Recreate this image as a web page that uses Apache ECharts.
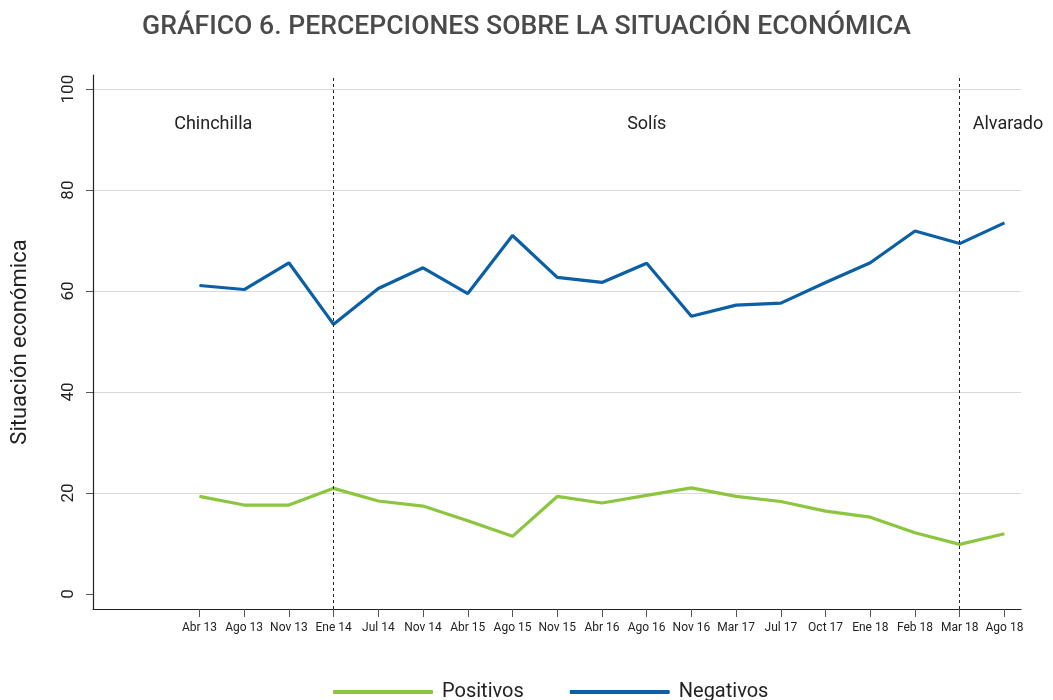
<!DOCTYPE html>
<html>
<head>
<meta charset="utf-8">
<script src="https://cdn.jsdelivr.net/npm/echarts@6/dist/echarts.min.js"></script>
<style>
  html, body { margin: 0; padding: 0; background: #fff; }
  #chart { width: 1053px; height: 700px; }
</style>
</head>
<body>
<div id="chart"></div>
<script>
// fechas de las encuestas
const periodos = ['Abr 13', 'Ago 13', 'Nov 13', 'Ene 14', 'Jul 14', 'Nov 14', 'Abr 15', 'Ago 15', 'Nov 15',
  'Abr 16', 'Ago 16', 'Nov 16', 'Mar 17', 'Jul 17', 'Oct 17', 'Ene 18', 'Feb 18', 'Mar 18', 'Ago 18']
const positivos = [19.3, 17.6, 17.6, 20.9, 18.4, 17.4, 14.5, 11.4, 19.3, 18.0, 19.5, 21.0, 19.3, 18.3, 16.4, 15.2, 12.1, 9.8, 11.9]
const negativos = [61.1, 60.3, 65.6, 53.4, 60.5, 64.6, 59.5, 71.0, 62.7, 61.7, 65.5, 55.0, 57.2, 57.6, 61.7, 65.6, 71.9, 69.4, 73.5]
const yTicks = [0, 20, 40, 60, 80, 100]
// cambios de gobierno (indice de la fecha)
const gobiernos = ['Chinchilla', 'Solís', 'Alvarado']
const cortes = [3, 17]

const X_MIN = -2.38
const X_MAX = 18.37
const FONT = 'Roboto'

const toPairs = arr => arr.map((v, i) => [i, v])

const chart = echarts.init(document.getElementById('chart'))

const option = {
  animation: false,
  textStyle: { fontFamily: FONT },
  title: {
    text: 'GRÁFICO 6. PERCEPCIONES SOBRE LA SITUACIÓN ECONÓMICA',
    left: 'center',
    top: 9,
    textStyle: { fontFamily: FONT, fontSize: 26.6, fontWeight: 500, color: '#4a4a4a' }
  },
  legend: {
    left: 328,
    top: 677,
    itemWidth: 100,
    itemHeight: 4,
    itemGap: 46,
    icon: 'roundRect',
    textStyle: { fontSize: 20, color: '#222', padding: [0, 0, 0, 4] },
    data: ['Positivos', 'Negativos']
  },
  grid: { left: 93, right: 32, top: 75, bottom: 91 },
  xAxis: {
    type: 'value',
    min: X_MIN,
    max: X_MAX,
    axisLine: { onZero: false, lineStyle: { color: '#222', width: 1.2 } },
    axisTick: {
      customValues: periodos.map((_, i) => i),
      length: 8,
      lineStyle: { color: '#555' }
    },
    axisLabel: {
      customValues: periodos.map((_, i) => i),
      formatter: v => periodos[v],
      fontSize: 12,
      color: '#222',
      margin: 13
    },
    splitLine: { show: false }
  },
  yAxis: {
    type: 'value',
    min: -3,
    max: 102.8,
    name: 'Situación económica',
    nameLocation: 'middle',
    nameGap: 62,
    nameRotate: 90,
    nameTextStyle: { fontSize: 22, color: '#222' },
    axisLine: { show: true, onZero: false, lineStyle: { color: '#222', width: 1.2 } },
    axisTick: {
      show: true,
      customValues: yTicks,
      length: 7,
      lineStyle: { color: '#555' }
    },
    axisLabel: {
      customValues: yTicks,
      rotate: 90,
      fontSize: 17,
      color: '#222',
      margin: 16
    },
    splitLine: {
      show: true,
      showMinLine: false,
      lineStyle: { color: '#d9d9d9', width: 1 }
    }
  },
  series: [
    {
      name: 'Positivos',
      type: 'line',
      data: toPairs(positivos),
      showSymbol: false,
      color: '#8cc63f',
      lineStyle: { width: 3.2 },
      z: 3
    },
    {
      name: 'Negativos',
      type: 'line',
      data: toPairs(negativos),
      showSymbol: false,
      color: '#0a5fa5',
      lineStyle: { width: 3.2 },
      z: 3,
      markLine: {
        silent: true,
        symbol: 'none',
        label: { show: false },
        lineStyle: { color: '#222', type: [3, 3], width: 1 },
        data: cortes.map(c => ({ xAxis: c }))
      },
      markArea: {
        silent: true,
        itemStyle: { color: 'rgba(0,0,0,0)' },
        label: {
          position: 'insideTop',
          distance: 40,
          fontSize: 18,
          color: '#222'
        },
        data: [
          [{ name: gobiernos[0], xAxis: X_MIN }, { xAxis: cortes[0] }],
          [{ name: gobiernos[1], xAxis: cortes[0] }, { xAxis: cortes[1] }],
          [{ name: gobiernos[2], xAxis: cortes[1], label: { position: [13, 40] } }, { xAxis: X_MAX }]
        ]
      }
    }
  ]
}

chart.setOption(option)
</script>
</body>
</html>
